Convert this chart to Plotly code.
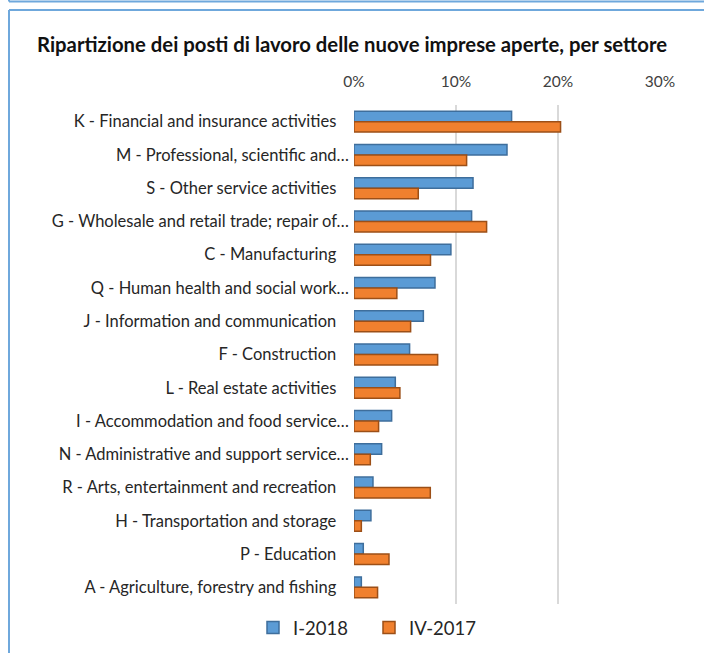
import plotly.graph_objects as go

categories = [
    "K - Financial and insurance activities",
    "M - Professional, scientific and\u2026",
    "S - Other service activities",
    "G - Wholesale and retail trade; repair of\u2026",
    "C - Manufacturing",
    "Q - Human health and social work\u2026",
    "J - Information and communication",
    "F - Construction",
    "L - Real estate activities",
    "I - Accommodation and food service\u2026",
    "N - Administrative and support service\u2026",
    "R - Arts, entertainment and recreation",
    "H - Transportation and storage",
    "P - Education",
    "A - Agriculture, forestry and fishing",
]
i_2018 = [0.1545, 0.150, 0.1167, 0.1153, 0.095, 0.0794, 0.068, 0.0545, 0.0405, 0.0369,
          0.0271, 0.0186, 0.0166, 0.0091, 0.0072]
iv_2017 = [0.2025, 0.1104, 0.063, 0.130, 0.075, 0.042, 0.0555, 0.082, 0.045, 0.0241,
           0.016, 0.0748, 0.0072, 0.0343, 0.0231]
x_ticks = [0, 0.1, 0.2, 0.3]
x_tick_labels = ["0%", "10%", "20%", "30%"]
series_names = ["I-2018", "IV-2017"]

# pad labels without ellipsis so that ellipses overhang like in the original
labels = [c if c.endswith("\u2026") else c + "\u00a0\u00a0\u00a0" for c in categories]

W, H = 704, 653
ML, MR, MT, MB = 354, 44, 105, 49
PW, PH = W - ML - MR, H - MT - MB

def px_x(px):
    return (px - ML) / PW

def px_y(py):
    return (H - MB - py) / PH

fig = go.Figure()
fig.add_trace(go.Bar(
    y=labels, x=i_2018, orientation="h", name=series_names[0],
    marker=dict(color="#5B9BD5", line=dict(color="#3E6E9C", width=1.5)),
))
fig.add_trace(go.Bar(
    y=labels, x=iv_2017, orientation="h", name=series_names[1],
    marker=dict(color="#F0802E", line=dict(color="#9C4F17", width=1.5)),
))

border = "#6FA8DC"
shapes = [
    dict(type="line", xref="paper", yref="paper", x0=px_x(9), x1=px_x(704),
         y0=px_y(1.5), y1=px_y(1.5), line=dict(color=border, width=2)),
    dict(type="line", xref="paper", yref="paper", x0=px_x(9), x1=px_x(704),
         y0=px_y(10), y1=px_y(10), line=dict(color=border, width=2)),
    dict(type="line", xref="paper", yref="paper", x0=px_x(9), x1=px_x(9),
         y0=px_y(10), y1=px_y(653), line=dict(color=border, width=2)),
    dict(type="line", xref="paper", yref="paper", x0=px_x(9), x1=px_x(9),
         y0=px_y(0), y1=px_y(1.5), line=dict(color=border, width=2)),
]

fig.update_layout(
    width=W, height=H,
    margin=dict(l=ML, r=MR, t=MT, b=MB, autoexpand=False),
    paper_bgcolor="white", plot_bgcolor="white",
    font=dict(family="Lato, Open Sans, sans-serif", size=16.5, color="#262626"),
    title=dict(text="<b>Ripartizione dei posti di lavoro delle nuove imprese aperte, per settore</b>",
               x=352 / W, xref="container", xanchor="center",
               y=1 - 45 / H, yref="container", yanchor="middle",
               font=dict(size=20.3, color="#111111")),
    barmode="group", bargap=0.37, bargroupgap=0,
    xaxis=dict(side="top", range=[0, 0.3], tickvals=x_ticks, ticktext=x_tick_labels,
               showgrid=True, gridcolor="#D9D9D9", gridwidth=2, zeroline=False,
               showline=False, ticks="", ticklabelstandoff=14,
               tickfont=dict(size=15.5, color="#404040"), fixedrange=True),
    yaxis=dict(autorange="reversed", showgrid=False, zeroline=False, showline=False,
               ticks="", ticklabelstandoff=4, tickfont=dict(size=16.5, color="#262626")),
    legend=dict(orientation="h", x=253 / W, xref="container", xanchor="left",
                y=1 - 628 / H, yref="container", yanchor="middle",
                font=dict(size=18.5, color="#262626"), itemwidth=30, traceorder="normal",
                entrywidth=71, entrywidthmode="pixels"),
    shapes=shapes,
    showlegend=True,
)

fig.write_html(
    "out.html",
    config={"displayModeBar": False},
    post_script="document.body.style.margin='0';document.body.style.overflow='hidden';",
)
